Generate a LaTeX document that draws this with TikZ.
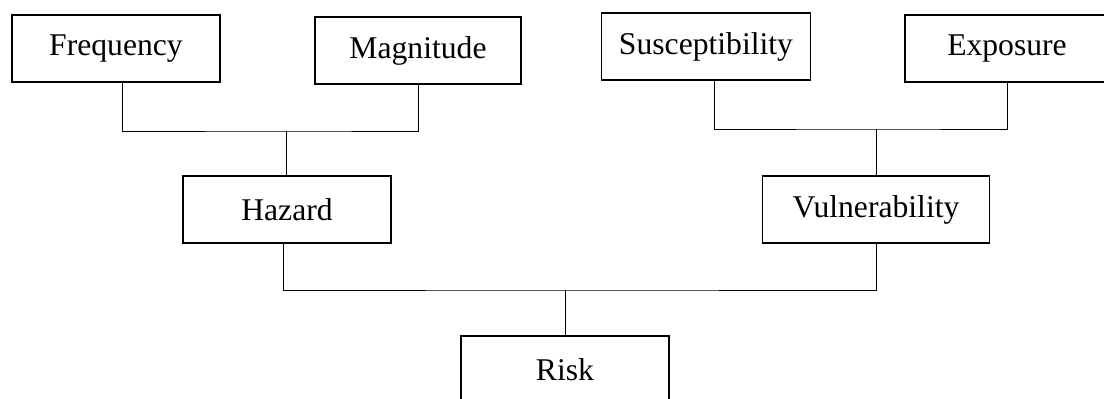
\documentclass[tikz,border=0pt]{standalone}
\usepackage{fontspec}
\setmainfont{Liberation Serif}
\usetikzlibrary{positioning}
\begin{document}
\begin{tikzpicture}[x=0.025cm,y=-0.025cm,line cap=rect,
    box/.style={draw,line width=0.9pt,minimum height=1.675cm,minimum width=5.2cm,inner sep=2pt,font=\fontsize{22.5}{26}\selectfont},
    link/.style={line width=0.6pt}]
    \useasboundingbox (0,0) rectangle (1104,399);
    % top row
    \node[box] (freq) at (116,48.5) {Frequency};
    \node[box,minimum width=5.15cm] (mag) at (418,50.5) {Magnitude};
    \node[box,minimum width=5.225cm] (susc) at (706,46.5) {Susceptibility};
    \node[box,minimum width=5.1cm] (expo) at (1007,48.5) {Exposure};
    % middle row
    \node[box,minimum width=5.2cm] (haz) at (287,209.5) {Hazard};
    \node[box,minimum width=5.675cm] (vuln) at (876,209.5) {Vulnerability};
    % bottom
    \node[box] (risk) at (565,369.5) {Risk};
    % junctions
    \coordinate (jhaz) at (286,131);
    \coordinate (jvuln) at (876,129);
    \coordinate (jrisk) at (565,290);
    \draw[link] ([xshift=0.15cm]freq.south) |- (jhaz) -| (mag.south);
    \draw[link] (jhaz) -- (jhaz |- haz.north);
    \draw[link] ([xshift=0.2cm]susc.south) |- (jvuln) -| (expo.south);
    \draw[link] (jvuln) -- (vuln.north);
    \draw[link] ([xshift=-0.1cm]haz.south) |- (jrisk) -| (vuln.south);
    \draw[link] (jrisk) -- (risk.north);
\end{tikzpicture}
\end{document}
